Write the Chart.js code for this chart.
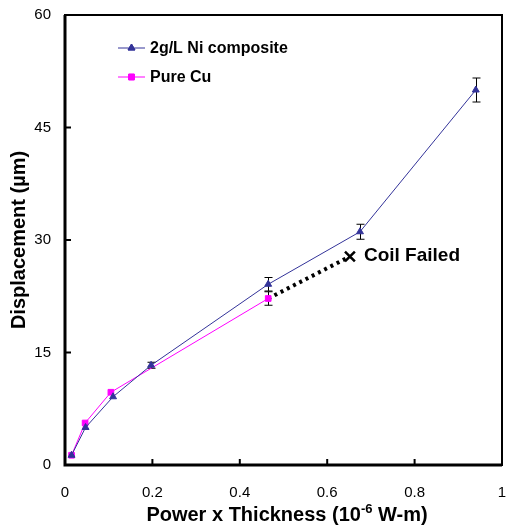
<!DOCTYPE html>
<html lang="en">
<head>
  <meta charset="UTF-8" />
  <title>Displacement vs Power x Thickness</title>
  <style>
    * { margin: 0; padding: 0; box-sizing: border-box; }
    html, body { background: white; overflow: hidden; }
    #wrap { width: 507px; height: 527px; }
    canvas { display: block; }
  </style>
</head>
<body>
  <div id="wrap"><canvas id="chartCanvas" width="507" height="527"></canvas></div>

  <script src="https://cdn.jsdelivr.net/npm/chart.js"></script>
  <script>
    // data
    const niLabel = '2g/L Ni composite';
    const niX = [0.015, 0.047, 0.11, 0.197, 0.465, 0.675, 0.94];
    const niY = [1.3, 5.0, 9.1, 13.3, 24.1, 31.1, 50.0];
    const niErr = [0, 0, 0, 0.4, 0.9, 1.0, 1.6];

    const cuLabel = 'Pure Cu';
    const cuX = [0.015, 0.046, 0.105, 0.465];
    const cuY = [1.3, 5.6, 9.7, 22.2];
    const cuErr = [0, 0, 0, 0.9];

    const failX = [0.465, 0.652];
    const failY = [22.2, 27.8];
    const failText = 'Coil Failed';

    const xTicks = [0, 0.2, 0.4, 0.6, 0.8, 1];
    const yTicks = [0, 15, 30, 45, 60];

    const FONT = "'Liberation Sans', Arial, sans-serif";
    const pts = (xs, ys) => xs.map((x, i) => ({ x: x, y: ys[i] }));

    // frame, inward ticks, error bars, legend, annotations
    const extras = {
      id: 'extras',
      beforeDatasetsDraw(chart) {
        const ctx = chart.ctx;
        const a = chart.chartArea;
        const xs = chart.scales.x, ys = chart.scales.y;
        ctx.save();
        ctx.strokeStyle = '#000';
        // ticks
        ctx.lineWidth = 2;
        ctx.beginPath();
        xTicks.forEach(v => {
          const px = xs.getPixelForValue(v);
          ctx.moveTo(px, a.bottom); ctx.lineTo(px, a.bottom - 6);
        });
        yTicks.forEach(v => {
          const py = ys.getPixelForValue(v);
          ctx.moveTo(a.left, py); ctx.lineTo(a.left + 6, py);
        });
        ctx.stroke();
        // error bars
        ctx.lineWidth = 1;
        const bars = (xsArr, ysArr, errs) => {
          xsArr.forEach((x, i) => {
            if (!errs[i]) return;
            const px = Math.round(xs.getPixelForValue(x)) + 0.5;
            const t = ys.getPixelForValue(ysArr[i] + errs[i]);
            const b = ys.getPixelForValue(ysArr[i] - errs[i]);
            ctx.beginPath();
            ctx.moveTo(px, t); ctx.lineTo(px, b);
            ctx.moveTo(px - 4, t); ctx.lineTo(px + 4, t);
            ctx.moveTo(px - 4, b); ctx.lineTo(px + 4, b);
            ctx.stroke();
          });
        };
        bars(niX, niY, niErr);
        bars(cuX, cuY, cuErr);
        ctx.restore();
      },
      afterDatasetsDraw(chart) {
        const ctx = chart.ctx;
        const a = chart.chartArea;
        const xs = chart.scales.x, ys = chart.scales.y;
        ctx.save();
        // frame
        ctx.strokeStyle = '#000';
        ctx.lineWidth = 2;
        ctx.strokeRect(a.left, a.top, a.right - a.left, a.bottom - a.top);
        ctx.lineWidth = 3;
        ctx.beginPath();
        ctx.moveTo(a.left, a.top); ctx.lineTo(a.left, a.bottom); ctx.lineTo(a.right, a.bottom);
        ctx.stroke();

        // legend
        const ds = chart.data.datasets;
        ctx.font = 'bold 16px ' + FONT;
        ctx.textBaseline = 'middle';
        [0, 1].forEach(i => {
          const d = ds[i];
          const y = 48 + i * 29;
          const x0 = 118, x1 = 145;
          ctx.strokeStyle = d.borderColor;
          ctx.lineWidth = 1;
          ctx.beginPath(); ctx.moveTo(x0, y); ctx.lineTo(x1, y); ctx.stroke();
          Chart.helpers.drawPoint(ctx, {
            pointStyle: d.pointStyle, radius: d.pointRadius, borderWidth: 1, rotation: 0
          }, (x0 + x1) / 2, y);
          ctx.fillStyle = d.pointBackgroundColor;
          ctx.strokeStyle = d.borderColor;
          ctx.fill(); ctx.stroke();
          ctx.fillStyle = '#000';
          ctx.fillText(d.label, 150, y + 1);
        });

        // annotation
        ctx.font = 'bold 19px ' + FONT;
        ctx.fillStyle = '#000';
        ctx.textBaseline = 'middle';
        ctx.fillText(failText, xs.getPixelForValue(failX[1]) + 14, ys.getPixelForValue(failY[1]) - 1);

        // x title with superscript
        const cx = 287;
        const base = 521;
        const p1 = 'Power x Thickness (10', sup = '-6', p2 = ' W-m)';
        ctx.font = 'bold 20px ' + FONT;
        const w1 = ctx.measureText(p1).width, w3 = ctx.measureText(p2).width;
        ctx.font = 'bold 13px ' + FONT;
        const w2 = ctx.measureText(sup).width;
        const sx = cx - (w1 + w2 + w3) / 2;
        ctx.textAlign = 'left';
        ctx.textBaseline = 'alphabetic';
        ctx.font = 'bold 20px ' + FONT;
        ctx.fillText(p1, sx, base);
        ctx.font = 'bold 13px ' + FONT;
        ctx.fillText(sup, sx + w1, base - 8);
        ctx.font = 'bold 20px ' + FONT;
        ctx.fillText(p2, sx + w1 + w2, base);
        ctx.restore();
      }
    };

    const chart = new Chart(document.getElementById('chartCanvas'), {
      type: 'scatter',
      data: {
        datasets: [
          {
            label: niLabel,
            data: pts(niX, niY),
            showLine: true,
            borderColor: '#333399',
            backgroundColor: '#333399',
            pointBackgroundColor: '#333399',
            borderWidth: 1,
            pointStyle: 'triangle',
            pointRadius: 4,
            pointBorderWidth: 1
          },
          {
            label: cuLabel,
            data: pts(cuX, cuY),
            showLine: true,
            borderColor: '#ff00ff',
            backgroundColor: '#ff00ff',
            pointBackgroundColor: '#ff00ff',
            borderWidth: 1,
            pointStyle: 'rect',
            pointRadius: 4,
            pointBorderWidth: 1
          },
          {
            label: failText,
            data: pts(failX, failY),
            showLine: true,
            borderColor: '#000',
            borderWidth: 4,
            borderDash: [3, 4],
            pointStyle: ['circle', 'crossRot'],
            pointRadius: [0, 7],
            pointBorderWidth: 2.5,
            pointBorderColor: '#000'
          }
        ]
      },
      options: {
        responsive: false,
        animation: false,
        layout: { autoPadding: false, padding: { top: 15, right: 5, left: 0, bottom: 0 } },
        plugins: {
          legend: { display: false },
          tooltip: { enabled: false }
        },
        scales: {
          x: {
            type: 'linear',
            min: 0, max: 1,
            afterBuildTicks: s => { s.ticks = xTicks.map(v => ({ value: v })); },
            afterFit: s => { s.height = 62; s.paddingRight = 0; s.paddingLeft = 0; },
            grid: { display: false, drawTicks: false },
            border: { display: false },
            ticks: {
              padding: 19,
              color: '#000',
              font: { family: FONT, size: 15 },
              callback: v => String(v)
            },
            title: { display: false }
          },
          y: {
            type: 'linear',
            min: 0, max: 60,
            afterBuildTicks: s => { s.ticks = yTicks.map(v => ({ value: v })); },
            afterFit: s => { s.width = 65; s.paddingTop = 0; s.paddingBottom = 0; },
            grid: { display: false, drawTicks: false },
            border: { display: false },
            ticks: {
              padding: 14,
              color: '#000',
              font: { family: FONT, size: 15 }
            },
            title: {
              display: true,
              text: 'Displacement (\u00b5m)',
              color: '#000',
              font: { family: FONT, size: 20, weight: 'bold' },
              padding: { top: 7, bottom: 0 }
            }
          }
        }
      },
      plugins: [extras]
    });
  </script>
</body>
</html>
